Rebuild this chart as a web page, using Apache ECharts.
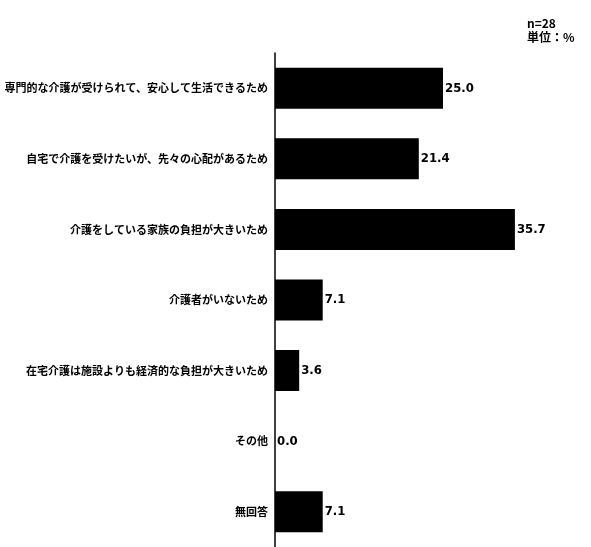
<!DOCTYPE html>
<html>
<head>
<meta charset="utf-8">
<script src="https://cdn.jsdelivr.net/npm/echarts@6/dist/echarts.min.js"></script>
<style>
html,body{margin:0;padding:0;background:#fff;}
#chart{width:591px;height:547px;}
</style>
</head>
<body>
<div id="chart"></div>
<script>
// Reasons for choosing facility care (n=28, unit: %)
const categories = [
  '専門的な介護が受けられて、安心して生活できるため',
  '自宅で介護を受けたいが、先々の心配があるため',
  '介護をしている家族の負担が大きいため',
  '介護者がいないため',
  '在宅介護は施設よりも経済的な負担が大きいため',
  'その他',
  '無回答'
];
const values = [25.0, 21.4, 35.7, 7.1, 3.6, 0.0, 7.1];
const noteLines = ['n=28', '単位：%'];

const chart = echarts.init(document.getElementById('chart'), null, {renderer: 'canvas'});
chart.setOption({
  animation: false,
  backgroundColor: '#ffffff',
  grid: {left: 275, top: 53, width: 268.8, height: 503, containLabel: false},
  xAxis: {
    type: 'value', min: 0, max: 40, show: false
  },
  yAxis: {
    type: 'category',
    data: categories,
    inverse: true,
    axisLine: {show: true, lineStyle: {color: '#000', width: 1.5}},
    axisTick: {show: false},
    axisLabel: {
      margin: 7,
      color: '#000',
      fontFamily: '"Noto Sans CJK JP", sans-serif',
      fontWeight: 'bold',
      fontSize: 11
    }
  },
  series: [{
    type: 'bar',
    data: values,
    barWidth: 41,
    itemStyle: {color: '#000'},
    label: {
      show: true,
      position: 'right',
      distance: 2,
      color: '#000',
      fontFamily: '"DejaVu Sans Condensed", "Liberation Sans Narrow", sans-serif',
      fontWeight: 'bold condensed',
      fontSize: 13,
      formatter: p => p.value.toFixed(1)
    }
  }],
  graphic: [{
    type: 'text',
    left: 527, top: 16,
    style: {
      text: noteLines.join('\n'),
      fill: '#000',
      font: 'bold 12px "Noto Sans CJK JP", sans-serif',
      lineHeight: 14
    }
  }]
});
</script>
</body>
</html>
